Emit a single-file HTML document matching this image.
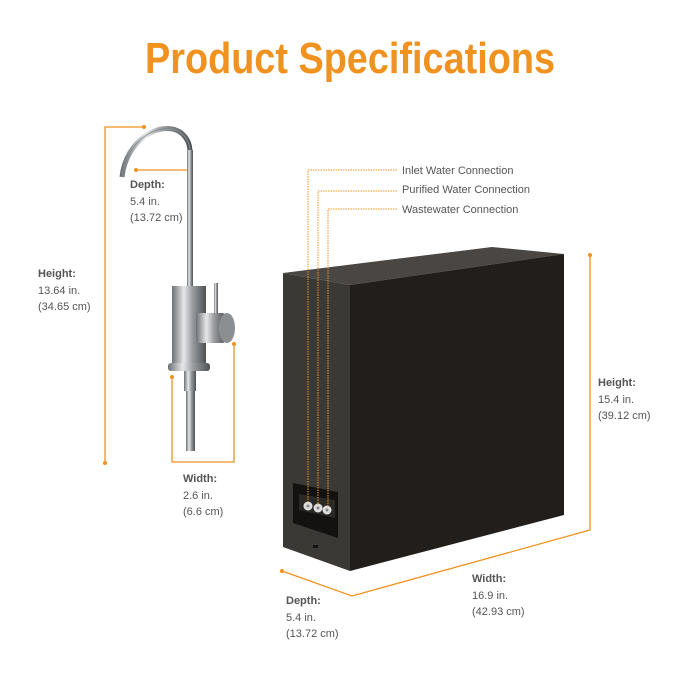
<!DOCTYPE html>
<html><head><meta charset="utf-8"><style>
html,body{margin:0;padding:0;background:#fff;}
svg{display:block}
text{font-family:"Liberation Sans",sans-serif;}
</style></head><body>
<svg width="700" height="700" viewBox="0 0 700 700" xmlns="http://www.w3.org/2000/svg">
<defs>
<linearGradient id="chrome" x1="0" x2="1" y1="0" y2="0">
<stop offset="0" stop-color="#6d7073"/><stop offset="0.35" stop-color="#e6e8ea"/><stop offset="0.6" stop-color="#9a9da0"/><stop offset="1" stop-color="#4e5154"/>
</linearGradient>
</defs>
<text x="350" y="73" text-anchor="middle" font-size="44" font-weight="bold" fill="#ef921f" textLength="410" lengthAdjust="spacingAndGlyphs">Product Specifications</text>

<!-- faucet dims -->
<g stroke="#ef921f" stroke-width="1.3" fill="none">
<polyline points="144,127 105,127 105,463"/>
<line x1="136" y1="170" x2="191" y2="170"/>
<polyline points="172,377 172,462 234,462 234,344"/>
<polyline points="282,571 352,596 590,530 590,255"/>
</g>
<g fill="#ef921f">
<circle cx="144" cy="127" r="2"/><circle cx="105" cy="463" r="2"/><circle cx="136" cy="170" r="2"/><circle cx="191" cy="170" r="2"/>
<circle cx="172" cy="377" r="2"/><circle cx="234" cy="344" r="2"/><circle cx="282" cy="571" r="2"/><circle cx="590" cy="255" r="2"/>
</g>

<!-- faucet -->
<path d="M122,177 C126,140 160,120 180,132 C188,138 190,145 190,152" stroke="url(#chrome)" stroke-width="5" fill="none" stroke-linecap="butt"/>
<path d="M122,177 C126,140 160,120 180,132 C188,138 190,145 190,152" stroke="#8a8d90" stroke-width="1" fill="none"/>
<rect x="187" y="150" width="6" height="138" fill="url(#chrome)"/>
<rect x="172" y="286" width="34" height="80" fill="url(#chrome)"/>
<rect x="214" y="283" width="4" height="32" fill="url(#chrome)"/>
<rect x="196" y="313" width="30" height="30" rx="4" fill="url(#chrome)"/>
<ellipse cx="227" cy="328" rx="8" ry="15" fill="#8c8f92"/>
<rect x="168" y="363" width="42" height="8" rx="3" fill="url(#chrome)"/>
<rect x="184" y="371" width="12" height="20" fill="url(#chrome)"/>
<rect x="186" y="391" width="9" height="60" fill="url(#chrome)"/>

<text font-size="11" fill="#555"><tspan x="130" y="188" font-weight="bold">Depth:</tspan><tspan x="130" y="205">5.4 in.</tspan><tspan x="130" y="221">(13.72 cm)</tspan></text>
<text font-size="11" fill="#555"><tspan x="38" y="277" font-weight="bold">Height:</tspan><tspan x="38" y="294">13.64 in.</tspan><tspan x="38" y="310">(34.65 cm)</tspan></text>
<text font-size="11" fill="#555"><tspan x="183" y="482" font-weight="bold">Width:</tspan><tspan x="183" y="499">2.6 in.</tspan><tspan x="183" y="515">(6.6 cm)</tspan></text>

<!-- box -->
<polygon points="283,273 492,247 564,254 350,285" fill="#4a4643"/>
<polygon points="283,273 350,285 350,571 283,547" fill="#3b3936"/>
<polygon points="350,285 564,254 564,515 350,571" fill="#221e1b"/>
<polygon points="293,483 338,492 338,538 293,523" fill="#141210"/>
<polygon points="299,494 335,500 335,518 299,510" fill="#2b2926"/>
<circle cx="308" cy="506" r="4.5" fill="#ddd"/><circle cx="318" cy="508" r="4.5" fill="#ddd"/><circle cx="327" cy="510" r="4.5" fill="#ddd"/>
<circle cx="308" cy="506" r="1.5" fill="#888"/><circle cx="318" cy="508" r="1.5" fill="#888"/><circle cx="327" cy="510" r="1.5" fill="#888"/>
<rect x="313" y="545" width="5" height="3" fill="#111"/>

<g stroke="#ef921f" stroke-width="1" fill="none" stroke-dasharray="1.5,1">
<polyline points="397,170 308,170 308,503"/>
<polyline points="397,191 318,191 318,505"/>
<polyline points="397,209 328,209 328,507"/>
</g>
<g font-size="11" fill="#555">
<text x="402" y="174">Inlet Water Connection</text>
<text x="402" y="193">Purified Water Connection</text>
<text x="402" y="213">Wastewater Connection</text>
</g>

<text font-size="11" fill="#555"><tspan x="598" y="386" font-weight="bold">Height:</tspan><tspan x="598" y="403">15.4 in.</tspan><tspan x="598" y="419">(39.12 cm)</tspan></text>
<text font-size="11" fill="#555"><tspan x="472" y="582" font-weight="bold">Width:</tspan><tspan x="472" y="599">16.9 in.</tspan><tspan x="472" y="615">(42.93 cm)</tspan></text>
<text font-size="11" fill="#555"><tspan x="286" y="604" font-weight="bold">Depth:</tspan><tspan x="286" y="621">5.4 in.</tspan><tspan x="286" y="637">(13.72 cm)</tspan></text>
</svg>
</body></html>
